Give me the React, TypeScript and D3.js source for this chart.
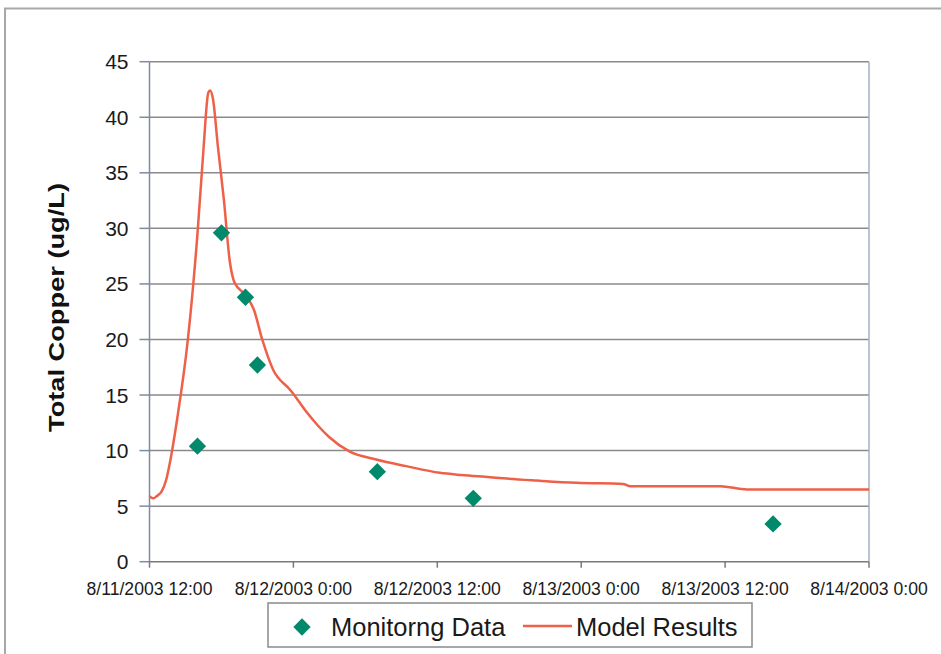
import React from "react";
import * as d3 from "d3";

// Monitoring samples of total copper
const monitorTimes = [
  "2003-08-11 16:00",
  "2003-08-11 18:00",
  "2003-08-11 20:00",
  "2003-08-11 21:00",
  "2003-08-12 07:00",
  "2003-08-12 15:00",
  "2003-08-13 16:00",
];
const monitorValues = [10.4, 29.6, 23.8, 17.7, 8.1, 5.7, 3.4];

// Simulated total copper from the model
const modelTimes = [
  "2003-08-11 12:00", "2003-08-11 12:18", "2003-08-11 12:36", "2003-08-11 13:00",
  "2003-08-11 13:24", "2003-08-11 13:42", "2003-08-11 14:18", "2003-08-11 15:12",
  "2003-08-11 16:00", "2003-08-11 16:30", "2003-08-11 16:54", "2003-08-11 17:03",
  "2003-08-11 17:18", "2003-08-11 17:42", "2003-08-11 18:12", "2003-08-11 18:42",
  "2003-08-11 19:06", "2003-08-11 20:00", "2003-08-11 20:42", "2003-08-11 21:24",
  "2003-08-11 22:18", "2003-08-11 23:42", "2003-08-12 00:00", "2003-08-12 01:00",
  "2003-08-12 02:00", "2003-08-12 03:00", "2003-08-12 04:42", "2003-08-12 06:54",
  "2003-08-12 09:24", "2003-08-12 12:12", "2003-08-12 14:00", "2003-08-12 16:24",
  "2003-08-12 17:30", "2003-08-12 20:18", "2003-08-12 23:36", "2003-08-13 03:30",
  "2003-08-13 04:06", "2003-08-13 11:36", "2003-08-13 13:48", "2003-08-14 00:00",
];
const modelValues = [
  5.9, 5.7, 5.9, 6.3,
  7.4, 8.9, 12.8, 20.0,
  29.5, 37.1, 42.2, 42.4,
  41.6, 37.4, 32.6, 27.0,
  25.1, 24.0, 22.7, 20.0,
  17.3, 15.5, 15.1, 13.6,
  12.3, 11.2, 9.9, 9.2,
  8.6, 8.0, 7.8, 7.6,
  7.5, 7.3, 7.1, 7.0,
  6.8, 6.8, 6.5, 6.5,
];

// Axis ticks
const xTickTimes = [
  "2003-08-11 12:00",
  "2003-08-12 00:00",
  "2003-08-12 12:00",
  "2003-08-13 00:00",
  "2003-08-13 12:00",
  "2003-08-14 00:00",
];
const yTicks = [0, 5, 10, 15, 20, 25, 30, 35, 40, 45];

const seriesNames = ["Monitorng Data", "Model Results"];
const yTitle = "Total Copper (ug/L)";

const W = 941;
const H = 654;
const plot = { left: 149.5, right: 869, top: 61.7, bottom: 561.7 };
const FONT = "'Liberation Sans', Arial, sans-serif";
const GREEN = "#00896b";
const RED = "#ee6048";

const parse = d3.timeParse("%Y-%m-%d %H:%M");

function fmtTick(d: Date) {
  return `${d.getMonth() + 1}/${d.getDate()}/${d.getFullYear()} ${d.getHours()}:${d3.format("02")(d.getMinutes())}`;
}

export default function App() {
  const xTicks = xTickTimes.map((t) => parse(t) as Date);
  const x = d3
    .scaleTime()
    .domain([xTicks[0], xTicks[xTicks.length - 1]])
    .range([plot.left, plot.right]);
  const y = d3.scaleLinear().domain([0, 45]).range([plot.bottom, plot.top]);

  const model = modelTimes.map((t, i) => ({ t: parse(t) as Date, v: modelValues[i] }));
  const monitor = monitorTimes.map((t, i) => ({ t: parse(t) as Date, v: monitorValues[i] }));

  const line = d3
    .line<{ t: Date; v: number }>()
    .x((d) => x(d.t))
    .y((d) => y(d.v))
    .curve(d3.curveMonotoneX);

  const diamond = d3.symbol().type(d3.symbolSquare).size(150)() as string;

  const legendY = 626;

  return (
    <svg
      width={W}
      height={H}
      viewBox={`0 0 ${W} ${H}`}
      style={{ position: "absolute", left: 0, top: 0, background: "#fff" }}
      fontFamily={FONT}
    >
      {/* chart frame */}
      <rect x={5} y={8.5} width={W + 20} height={H + 20} fill="#fff" stroke="#a8a8a8" strokeWidth={2} />

      {/* horizontal gridlines */}
      {yTicks.slice(1).map((v) => (
        <line key={v} x1={plot.left} x2={plot.right} y1={y(v)} y2={y(v)} stroke="#8a8a8a" strokeWidth={1.5} />
      ))}

      {/* plot border right */}
      <line x1={plot.right} x2={plot.right} y1={plot.top} y2={plot.bottom} stroke="#a6b0c0" strokeWidth={1.5} />

      {/* y axis */}
      <line x1={plot.left} x2={plot.left} y1={plot.top} y2={plot.bottom} stroke="#7d8ba3" strokeWidth={1.5} />
      {yTicks.map((v) => (
        <g key={v}>
          <line x1={plot.left - 10} x2={plot.left} y1={y(v)} y2={y(v)} stroke="#7d8ba3" strokeWidth={1.5} />
          <text x={128.5} y={y(v)} dy="0.36em" textAnchor="end" fontSize={21} fill="#1a1a1a">
            {v}
          </text>
        </g>
      ))}

      {/* x axis */}
      <line x1={plot.left} x2={plot.right} y1={plot.bottom} y2={plot.bottom} stroke="#7a7a7a" strokeWidth={1.5} />
      {xTicks.map((t, i) => (
        <g key={i}>
          <line x1={x(t)} x2={x(t)} y1={plot.bottom} y2={plot.bottom + 6} stroke="#7a7a7a" strokeWidth={1.5} />
          <text x={x(t)} y={595} textAnchor="middle" fontSize={17.6} fill="#1a1a1a">
            {fmtTick(t)}
          </text>
        </g>
      ))}

      {/* y axis title */}
      <text
        transform={`translate(64,307.5) rotate(-90)`}
        textAnchor="middle"
        fontSize={22}
        fontWeight="bold"
        fill="#111"
        textLength={249}
        lengthAdjust="spacingAndGlyphs"
      >
        {yTitle}
      </text>

      {/* model curve */}
      <path d={line(model) as string} fill="none" stroke={RED} strokeWidth={2.5} strokeLinejoin="round" />

      {/* monitoring points */}
      {monitor.map((d, i) => (
        <path key={i} d={diamond} transform={`translate(${x(d.t)},${y(d.v)}) rotate(45)`} fill={GREEN} />
      ))}

      {/* legend */}
      <rect x={268} y={603} width={484} height={44} fill="#fff" stroke="#8a8a8a" strokeWidth={1.5} />
      <path d={diamond} transform={`translate(302,${legendY + 1}) rotate(45)`} fill={GREEN} />
      <text x={331} y={636} fontSize={25.5} fill="#1a1a1a">
        {seriesNames[0]}
      </text>
      <line x1={523} x2={572} y1={legendY} y2={legendY} stroke={RED} strokeWidth={2.5} />
      <text x={576} y={636} fontSize={25.5} fill="#1a1a1a">
        {seriesNames[1]}
      </text>
    </svg>
  );
}
